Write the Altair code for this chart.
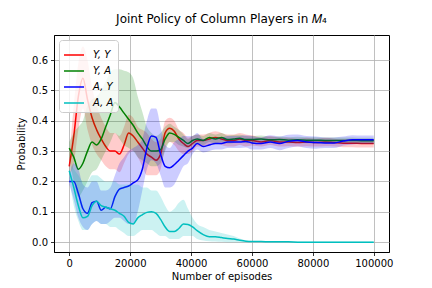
import altair as alt
import pandas as pd

episodes = [0, 1500, 3000, 4500, 6000, 7500, 9000, 10500, 12000, 13500, 15000, 16500, 18000, 19500,
            21000, 22500, 24000, 25500, 27000, 28500, 30000, 31500, 33000, 34500, 36000, 37500, 39000,
            40500, 42000, 44000, 46000, 48000, 50000, 52000, 54000, 56000, 58000, 60000, 63000, 66000,
            69000, 72000, 75000, 78000, 81000, 84000, 87000, 90000, 93000, 96000, 100000]

series_names = ["Y, Y", "Y, A", "A, Y", "A, A"]
series_colors = ["#ff0000", "#008000", "#0000ff", "#00bfbf"]

yy_mean = [0.25, 0.35, 0.48, 0.54, 0.47, 0.41, 0.37, 0.34, 0.315, 0.30, 0.30, 0.29, 0.32, 0.36, 0.35, 0.33,
           0.31, 0.29, 0.28, 0.27, 0.29, 0.36, 0.375, 0.365, 0.34, 0.325, 0.315, 0.325, 0.335, 0.335, 0.34,
           0.345, 0.34, 0.335, 0.335, 0.34, 0.335, 0.335, 0.33, 0.335, 0.33, 0.33, 0.328, 0.33, 0.328, 0.33,
           0.328, 0.326, 0.326, 0.325, 0.325]
yy_lo = [0.22, 0.26, 0.37, 0.44, 0.37, 0.32, 0.29, 0.27, 0.25, 0.24, 0.24, 0.23, 0.26, 0.29, 0.30, 0.28, 0.25,
         0.22, 0.22, 0.22, 0.24, 0.31, 0.33, 0.32, 0.30, 0.29, 0.29, 0.30, 0.315, 0.315, 0.32, 0.325, 0.32,
         0.315, 0.315, 0.32, 0.315, 0.318, 0.315, 0.32, 0.315, 0.316, 0.315, 0.316, 0.315, 0.316, 0.315,
         0.313, 0.313, 0.312, 0.312]
yy_hi = [0.28, 0.45, 0.59, 0.645, 0.60, 0.51, 0.45, 0.41, 0.38, 0.36, 0.36, 0.35, 0.38, 0.42, 0.41, 0.38, 0.37,
         0.36, 0.34, 0.33, 0.34, 0.40, 0.41, 0.40, 0.37, 0.36, 0.345, 0.35, 0.355, 0.355, 0.36, 0.365, 0.36,
         0.355, 0.355, 0.36, 0.355, 0.352, 0.345, 0.35, 0.345, 0.344, 0.341, 0.344, 0.341, 0.344, 0.341,
         0.339, 0.339, 0.338, 0.338]

ya_mean = [0.31, 0.28, 0.24, 0.26, 0.30, 0.33, 0.32, 0.34, 0.38, 0.42, 0.46, 0.445, 0.425, 0.405, 0.385, 0.36,
           0.34, 0.315, 0.30, 0.30, 0.305, 0.34, 0.36, 0.355, 0.345, 0.335, 0.325, 0.335, 0.34, 0.335, 0.345,
           0.34, 0.345, 0.338, 0.34, 0.342, 0.338, 0.338, 0.34, 0.337, 0.338, 0.336, 0.337, 0.336, 0.336,
           0.335, 0.335, 0.335, 0.335, 0.334, 0.334]
ya_lo = [0.28, 0.20, 0.15, 0.17, 0.20, 0.23, 0.24, 0.27, 0.30, 0.33, 0.36, 0.34, 0.32, 0.31, 0.30, 0.28, 0.27,
         0.26, 0.25, 0.25, 0.26, 0.30, 0.33, 0.33, 0.32, 0.315, 0.31, 0.32, 0.325, 0.32, 0.33, 0.325, 0.33,
         0.325, 0.327, 0.33, 0.326, 0.327, 0.329, 0.327, 0.328, 0.326, 0.327, 0.326, 0.326, 0.325, 0.325,
         0.325, 0.325, 0.324, 0.324]
ya_hi = [0.33, 0.36, 0.38, 0.40, 0.45, 0.47, 0.48, 0.50, 0.53, 0.56, 0.57, 0.57, 0.565, 0.56, 0.54, 0.48, 0.43,
         0.38, 0.36, 0.35, 0.36, 0.38, 0.39, 0.38, 0.37, 0.355, 0.34, 0.35, 0.355, 0.35, 0.36, 0.355, 0.36,
         0.351, 0.353, 0.354, 0.35, 0.349, 0.351, 0.347, 0.348, 0.346, 0.347, 0.346, 0.346, 0.345, 0.345,
         0.345, 0.345, 0.344, 0.344]

ay_mean = [0.20, 0.20, 0.16, 0.11, 0.095, 0.13, 0.135, 0.105, 0.115, 0.11, 0.15, 0.175, 0.18, 0.185, 0.195,
           0.205, 0.24, 0.31, 0.35, 0.345, 0.29, 0.25, 0.245, 0.255, 0.27, 0.285, 0.30, 0.31, 0.325, 0.315,
           0.32, 0.325, 0.325, 0.33, 0.33, 0.33, 0.332, 0.327, 0.325, 0.33, 0.325, 0.332, 0.335, 0.33, 0.328,
           0.327, 0.327, 0.333, 0.337, 0.337, 0.337]
ay_lo = [0.19, 0.14, 0.08, 0.05, 0.04, 0.06, 0.07, 0.06, 0.06, 0.07, 0.08, 0.08, 0.07, 0.06, 0.06, 0.10, 0.17,
         0.24, 0.27, 0.26, 0.22, 0.18, 0.18, 0.19, 0.22, 0.25, 0.26, 0.29, 0.305, 0.295, 0.30, 0.305, 0.305,
         0.31, 0.31, 0.31, 0.312, 0.305, 0.305, 0.31, 0.303, 0.31, 0.315, 0.31, 0.308, 0.31, 0.31, 0.318,
         0.322, 0.323, 0.323]
ay_hi = [0.21, 0.26, 0.24, 0.19, 0.18, 0.20, 0.20, 0.17, 0.17, 0.18, 0.22, 0.26, 0.28, 0.30, 0.31, 0.32, 0.34,
         0.40, 0.44, 0.44, 0.38, 0.32, 0.31, 0.33, 0.34, 0.35, 0.35, 0.35, 0.36, 0.34, 0.34, 0.345, 0.345,
         0.35, 0.35, 0.35, 0.352, 0.35, 0.345, 0.352, 0.348, 0.354, 0.355, 0.35, 0.348, 0.345, 0.345, 0.348,
         0.352, 0.351, 0.351]

aa_mean = [0.235, 0.18, 0.12, 0.08, 0.085, 0.12, 0.135, 0.12, 0.115, 0.11, 0.105, 0.095, 0.085, 0.065, 0.06,
           0.08, 0.09, 0.098, 0.10, 0.095, 0.075, 0.05, 0.035, 0.035, 0.045, 0.06, 0.058, 0.05, 0.038, 0.025,
           0.018, 0.018, 0.015, 0.012, 0.01, 0.006, 0.003, 0.002, 0.002, 0.001, 0.001, 0.001, 0.0, 0.0, 0.0,
           0.0, 0.0, 0.0, 0.0, 0.0, 0.0]
aa_lo = [0.21, 0.12, 0.07, 0.04, 0.04, 0.06, 0.07, 0.06, 0.06, 0.05, 0.05, 0.04, 0.03, 0.02, 0.02, 0.03, 0.04,
         0.04, 0.04, 0.03, 0.02, 0.02, 0.01, 0.01, 0.01, 0.02, 0.02, 0.02, 0.01, 0.005, 0.003, 0.002, 0.001,
         0.0, 0.0, 0.0, 0.0, 0.0, 0.0, 0.0, 0.0, 0.0, 0.0, 0.0, 0.0, 0.0, 0.0, 0.0, 0.0, 0.0, 0.0]
aa_hi = [0.26, 0.24, 0.22, 0.20, 0.20, 0.22, 0.22, 0.21, 0.20, 0.20, 0.20, 0.19, 0.19, 0.19, 0.19, 0.19, 0.18,
         0.18, 0.17, 0.17, 0.15, 0.12, 0.10, 0.11, 0.13, 0.14, 0.11, 0.08, 0.06, 0.05, 0.04, 0.035, 0.03,
         0.025, 0.02, 0.012, 0.006, 0.004, 0.003, 0.003, 0.002, 0.002, 0.002, 0.002, 0.002, 0.002, 0.002,
         0.002, 0.002, 0.002, 0.002]

x_ticks = [0, 20000, 40000, 60000, 80000, 100000]
y_ticks = [0.0, 0.1, 0.2, 0.3, 0.4, 0.5, 0.6]

means = [yy_mean, ya_mean, ay_mean, aa_mean]
los = [yy_lo, ya_lo, ay_lo, aa_lo]
his = [yy_hi, ya_hi, ay_hi, aa_hi]

rows = []
for name, m, lo, hi in zip(series_names, means, los, his):
    for e, a, b, c in zip(episodes, m, lo, hi):
        rows.append({"series": name, "ep": e, "mean": a, "lo": b, "hi": c})
df = pd.DataFrame(rows)

font = "DejaVu Sans"
xenc = alt.X("ep:Q", scale=alt.Scale(domain=[-5000, 105000], nice=False, zero=False),
             axis=alt.Axis(values=x_ticks, format="d", title="Number of episodes", titlePadding=3))
yscale = alt.Scale(domain=[-0.0325, 0.6825], nice=False, zero=False)
yaxis = alt.Axis(values=y_ticks, format=".1f", title="Probability", titlePadding=5)

legend = alt.Legend(title=None, orient="none", legendX=5, legendY=5, symbolType="stroke",
                    symbolSize=400, symbolStrokeWidth=1.5, labelFontStyle="italic",
                    labelFont=font, labelFontSize=10, labelColor="black",
                    fillColor="rgba(255,255,255,0.8)", strokeColor="#cccccc",
                    cornerRadius=3, padding=4, labelOffset=8, rowPadding=0)

base = alt.Chart(df)
layers = []
for name, col in zip(series_names, series_colors):
    sub = base.transform_filter(alt.datum.series == name)
    area = sub.mark_area(color=col, opacity=0.2, interpolate="monotone").encode(
        x=xenc, y=alt.Y("lo:Q", scale=yscale, axis=yaxis), y2="hi:Q")
    line = sub.mark_line(strokeWidth=1.5, interpolate="monotone").encode(
        x=xenc, y=alt.Y("mean:Q", scale=yscale, axis=yaxis),
        color=alt.Color("series:N", scale=alt.Scale(domain=series_names, range=series_colors),
                        legend=legend))
    layers += [area, line]

chart = alt.layer(*layers).properties(
    width=335, height=217,
    title=alt.TitleParams("Joint Policy of Column Players in 𝑀₄", font=font, fontSize=12,
                          fontWeight="normal", color="black", offset=9),
    padding={"left": 46, "top": 27, "right": 35, "bottom": 32},
    autosize=alt.AutoSizeParams(type="none"),
).configure_view(stroke="black", strokeWidth=1).configure_axis(
    labelFont=font, labelFontSize=10, labelColor="black", titleFont=font, titleFontSize=10,
    titleFontWeight="normal", titleColor="black", tickColor="black", tickSize=3.5, tickWidth=0.8,
    domainColor="black", domainWidth=0.8, gridColor="#b0b0b0", gridWidth=0.8, labelPadding=3,
)

chart.save("out.html", embed_options={"renderer": "svg", "actions": False})
